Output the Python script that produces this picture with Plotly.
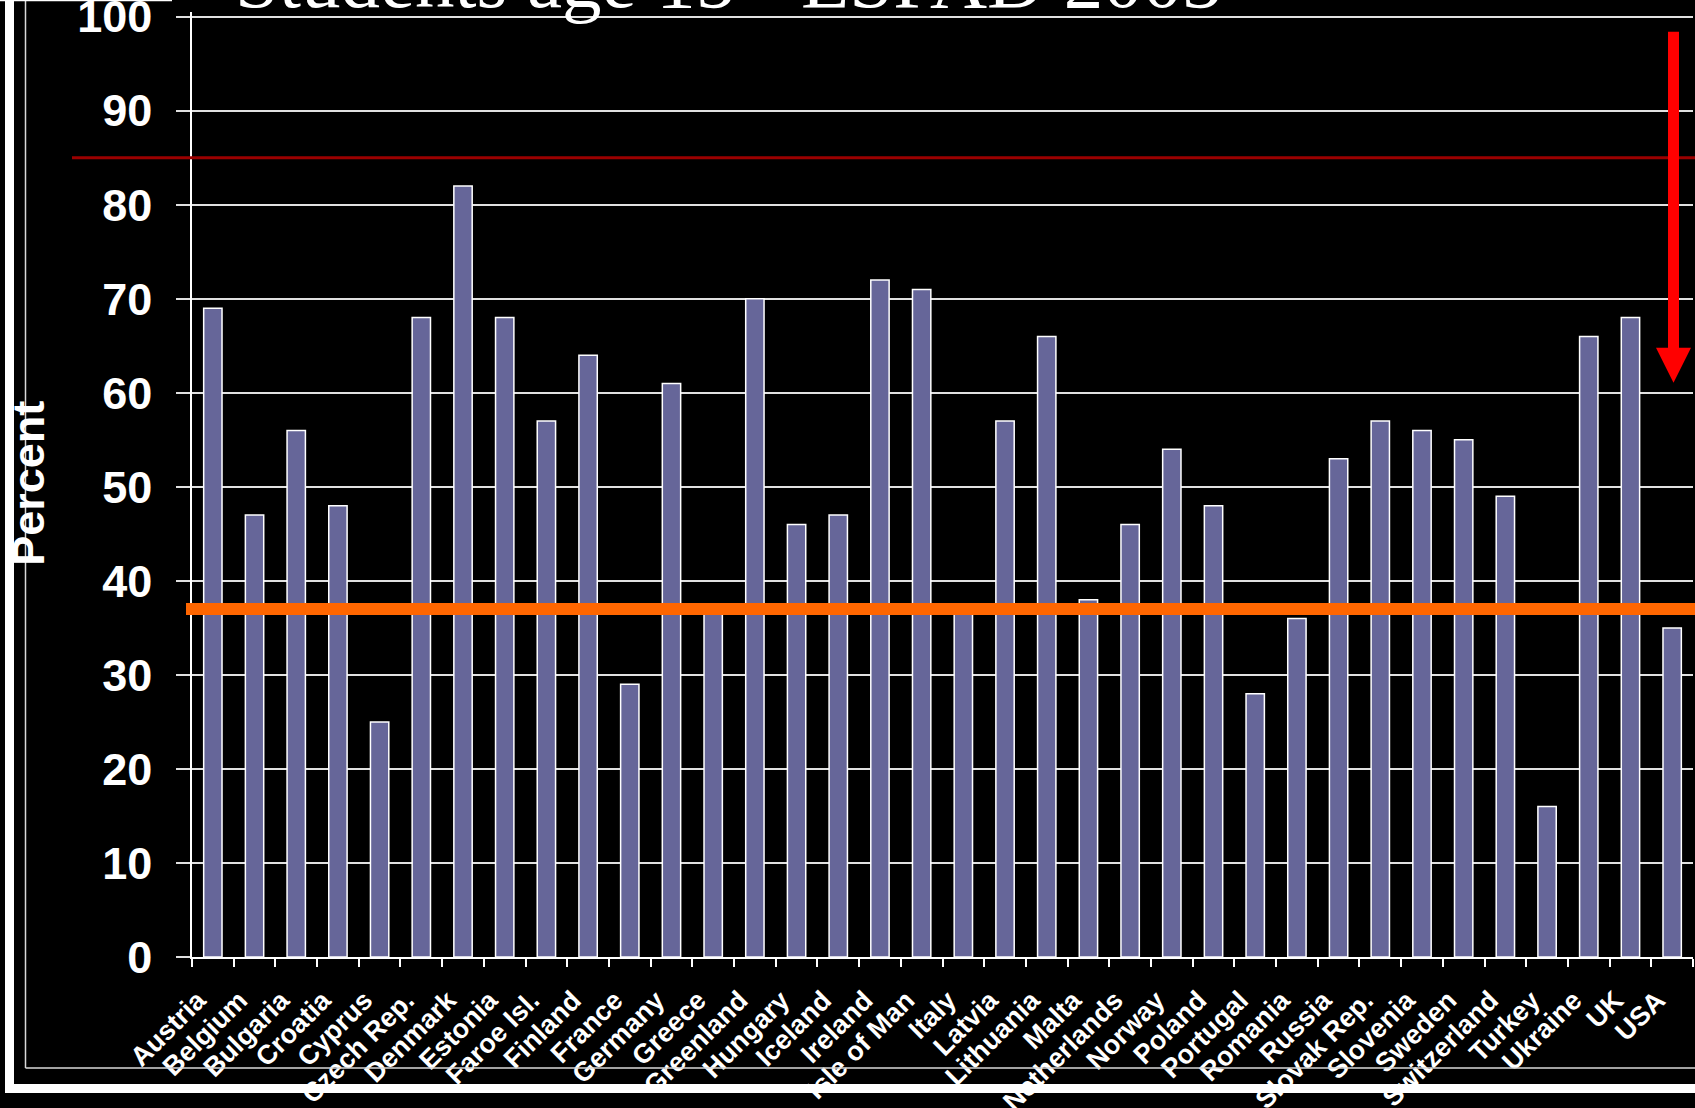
import plotly.graph_objects as go

# ---------------- data ----------------
countries = ["Austria", "Belgium", "Bulgaria", "Croatia", "Cyprus", "Czech Rep.",
             "Denmark", "Estonia", "Faroe Isl.", "Finland", "France", "Germany",
             "Greece", "Greenland", "Hungary", "Iceland", "Ireland", "Isle of Man",
             "Italy", "Latvia", "Lithuania", "Malta", "Netherlands", "Norway",
             "Poland", "Portugal", "Romania", "Russia", "Slovak Rep.", "Slovenia",
             "Sweden", "Switzerland", "Turkey", "Ukraine", "UK", "USA"]
percent = [69, 47, 56, 48, 25, 68,
           82, 68, 57, 64, 29, 61,
           37, 70, 46, 47, 72, 71,
           37, 57, 66, 38, 46, 54,
           48, 28, 36, 53, 57, 56,
           55, 49, 16, 66, 68, 35]
orange_level = 37
darkred_level = 85
y_tick_values = [0, 10, 20, 30, 40, 50, 60, 70, 80, 90, 100]
title_text = "Students age 15 - ESPAD 2003"
y_title = "Percent"

# ---------------- geometry helpers (pixels -> paper) ----------------
W, H = 1695, 1108
Y_TOP = 100.5                       # small headroom so the 100 gridline is drawn
ML, MR, MB = 192, 2, 151
PH = 940 * Y_TOP / 100.0            # 100 units -> 940 px
MT = H - MB - PH
PW = W - ML - MR


def px(x):
    return (x - ML) / PW


def py(y):
    return (H - MB - y) / PH


fig = go.Figure(
    go.Bar(
        x=countries,
        y=percent,
        width=0.44,
        marker=dict(color="#666699", line=dict(color="white", width=1.5)),
        hoverinfo="x+y",
    )
)

shapes = []
# dark red line
shapes.append(dict(type="line", xref="paper", yref="y", x0=px(72), x1=px(W), y0=darkred_level,
                   y1=darkred_level, line=dict(color="#9B0000", width=3), layer="above"))
# orange line
shapes.append(dict(type="line", xref="paper", yref="y", x0=px(186), x1=px(W), y0=orange_level,
                   y1=orange_level, line=dict(color="#FF6600", width=12), layer="above"))
# red arrow: shaft + head
shapes.append(dict(type="rect", xref="paper", yref="paper", x0=px(1668), x1=px(1679),
                   y0=py(350), y1=py(32), fillcolor="#FF0000", line=dict(width=0), layer="above"))
head = "M {:.5f},{:.5f} L {:.5f},{:.5f} L {:.5f},{:.5f} Z".format(
    px(1656), py(348), px(1691), py(348), px(1673.5), py(383))
shapes.append(dict(type="path", xref="paper", yref="paper", path=head,
                   fillcolor="#FF0000", line=dict(width=0), layer="above"))
# slide frame
shapes.append(dict(type="rect", xref="paper", yref="paper", x0=px(5), x1=px(14),
                   y0=py(1093), y1=py(-5), fillcolor="white", line=dict(width=0), layer="above"))
shapes.append(dict(type="rect", xref="paper", yref="paper", x0=px(5), x1=px(W + 5),
                   y0=py(1093), y1=py(1084), fillcolor="white", line=dict(width=0), layer="above"))
shapes.append(dict(type="line", xref="paper", yref="paper", x0=px(25.5), x1=px(25.5),
                   y0=py(1068), y1=py(-5), line=dict(color="#D8D8D8", width=1.5), layer="above"))
shapes.append(dict(type="line", xref="paper", yref="paper", x0=px(25.5), x1=px(W + 5),
                   y0=py(1068), y1=py(1068), line=dict(color="#D8D8D8", width=1.5), layer="above"))
shapes.append(dict(type="line", xref="paper", yref="paper", x0=px(0), x1=px(172),
                   y0=py(0.8), y1=py(0.8), line=dict(color="white", width=1.5), layer="above"))

annotations = [
    dict(text=title_text, xref="paper", yref="paper", x=px(233), y=py(26),
         xanchor="left", yanchor="bottom", showarrow=False,
         font=dict(family="Liberation Serif", size=79, color="white")),
    dict(text=y_title, xref="paper", yref="paper", x=px(29), y=py(484),
         xanchor="center", yanchor="middle", showarrow=False, textangle=-90,
         font=dict(family="Liberation Sans", size=45, color="white", weight="bold")),
]

fig.update_layout(
    width=W, height=H,
    margin=dict(l=ML, r=MR, t=MT, b=MB, pad=0),
    paper_bgcolor="black", plot_bgcolor="black",
    showlegend=False,
    shapes=shapes,
    annotations=annotations,
    xaxis=dict(
        type="category", range=[-0.5, len(countries) - 0.5],
        tickson="boundaries", ticks="outside", ticklen=8, tickwidth=1.5, tickcolor="white",
        showline=True, linecolor="white", linewidth=1.5, showgrid=False, zeroline=False,
        tickangle=-45, ticklabelstandoff=15, ticklabelshift=-15, ticklabeloverflow="allow",
        tickfont=dict(family="Liberation Sans", size=27, color="white", weight="bold"),
        automargin=False, fixedrange=True,
    ),
    yaxis=dict(
        range=[0, Y_TOP], tickvals=y_tick_values, ticks="outside", ticklen=14, tickwidth=1.5,
        tickcolor="#E0E0E0", showline=True, linecolor="white", linewidth=1.5,
        showgrid=True, gridcolor="#E0E0E0", gridwidth=1.5, zeroline=False,
        ticklabelstandoff=15, ticklabeloverflow="allow",
        tickfont=dict(family="Liberation Sans", size=45, color="white", weight="bold"),
        automargin=False, fixedrange=True,
    ),
    font=dict(family="Liberation Sans", color="white"),
)

fig.write_html(
    "out.html",
    config={"displayModeBar": False},
    post_script="document.body.style.margin='0';document.body.style.overflow='hidden';"
                "document.body.style.background='black';",
)
